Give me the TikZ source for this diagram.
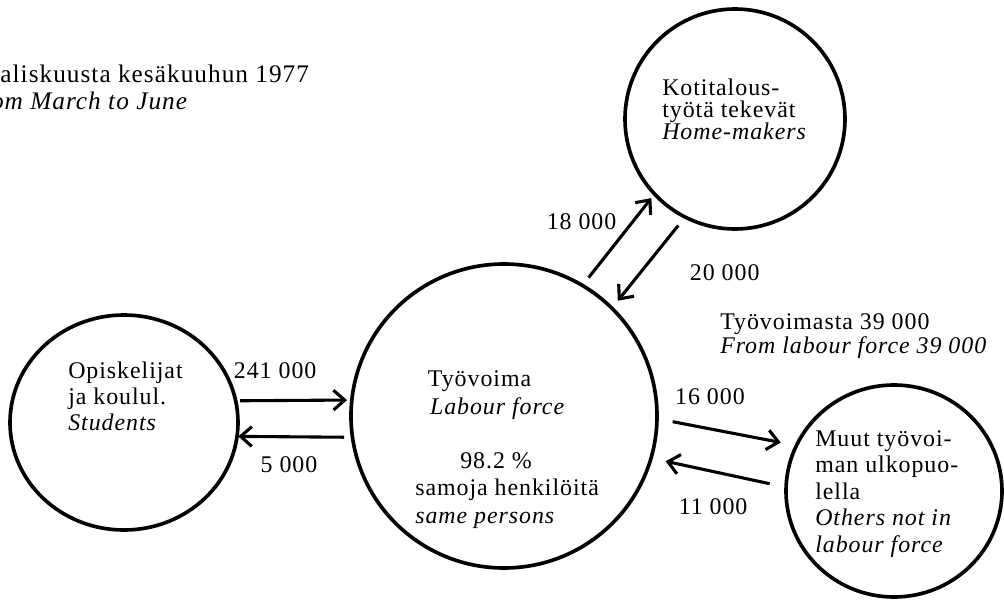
\documentclass[tikz,border=0pt]{standalone}
\usepackage{fontspec}
\setmainfont[LetterSpace=4]{Liberation Serif}
\usepackage{tikz}
\usetikzlibrary{arrows.meta,positioning,shapes.geometric}

\begin{document}
\begin{tikzpicture}[
  on grid,
  font=\fontsize{17}{18.5}\selectfont,
  group/.style={ellipse,draw,line width=2.6pt,inner sep=0pt,outer sep=0pt},
  txt/.style={align=left,inner sep=0pt,anchor=base west},
  flow/.style={-{Straight Barb[length=8pt,width=14pt]},line width=2.2pt},
  num/.style={inner sep=0pt}
  ]
  \useasboundingbox (0,0) rectangle (25.1,-15.125);

  \node[group,minimum width=7.65cm,minimum height=7.6cm] (labour) at (12.6,-10.4)                   {};
  \node[group,minimum width=5.7cm,minimum height=5.375cm] (students)   [below left=0.1625cm and 9.5cm of labour]   {};
  \node[group,minimum width=5.5cm,minimum height=5.5cm]   (homemakers) [above right=7.425cm and 5.775cm of labour] {};
  \node[group,minimum width=5.4cm,minimum height=5.3cm]   (others)     [below right=1.875cm and 9.75cm of labour]  {};

  \node[txt,font=\fontsize{18}{18.5}\selectfont] (period) at (-0.89,-2.725)
    {Maaliskuusta kesäkuuhun 1977\\ \textit{From March to June}};
  \node[txt] (outflow) at (18,-8.825) {Työvoimasta 39 000\\[-1.5pt] \textit{From labour force 39 000}};

  \node[txt] (studentstext) at ([shift={(-1.4,-0.2)}]students.center)
    {Opiskelijat\\ ja koulul.\\ \textit{Students}};
  \node[txt,font=\fontsize{17}{19.5}\selectfont] (labourtext) at ([shift={(-2.225,-2.675)}]labour.center)
    {\hspace*{9pt}Työvoima\\ \hspace*{10.5pt}\textit{Labour force}\\[19pt]
     \hspace*{32pt}98.2~\%\\ samoja henkilöitä\\ \textit{same persons}};
  \node[txt,font=\fontsize{17}{16}\selectfont] (hometext) at ([shift={(-1.825,-0.525)}]homemakers.center)
    {Kotitalous-\\ työtä tekevät\\ \textit{Home-makers}};
  \node[txt,font=\fontsize{17}{18.8}\selectfont] (otherstext) at ([shift={(-1.975,-1.525)}]others.center)
    {Muut työvoi-\\ man ulkopuo-\\ lella\\ \textit{Others not in}\\ \textit{labour force}};

  \path[flow]
    (students.11)   edge [shorten <=0.11cm,shorten >=0.12cm] node [num,pos=0.34,above=0.5cm]  {241 000} (labour.174)
    (labour.188)    edge [shorten <=0.21cm,shorten >=0.03cm] node [num,pos=0.55,below=0.45cm] {5 000}   (students.-7)
    (labour.59)     edge [shorten <=0.25cm,shorten >=0.13cm] node [num,pos=0.7,left=0.375cm]  {18 000}  (homemakers.223)
    (homemakers.243) edge [shorten <=0.27cm,shorten >=0.24cm] node [num,pos=0.61,right=1.2cm] {20 000}  (labour.45)
    (labour.-1)     edge [shorten <=0.4cm,shorten >=0.4cm]   node [num,pos=0.38,above=0.575cm] {16 000} (others.155)
    (others.178)    edge [shorten <=0.42cm,shorten >=0.375cm] node [num,pos=0.54,below=0.63cm] {11 000} (labour.-16)
    ;
\end{tikzpicture}
\end{document}
